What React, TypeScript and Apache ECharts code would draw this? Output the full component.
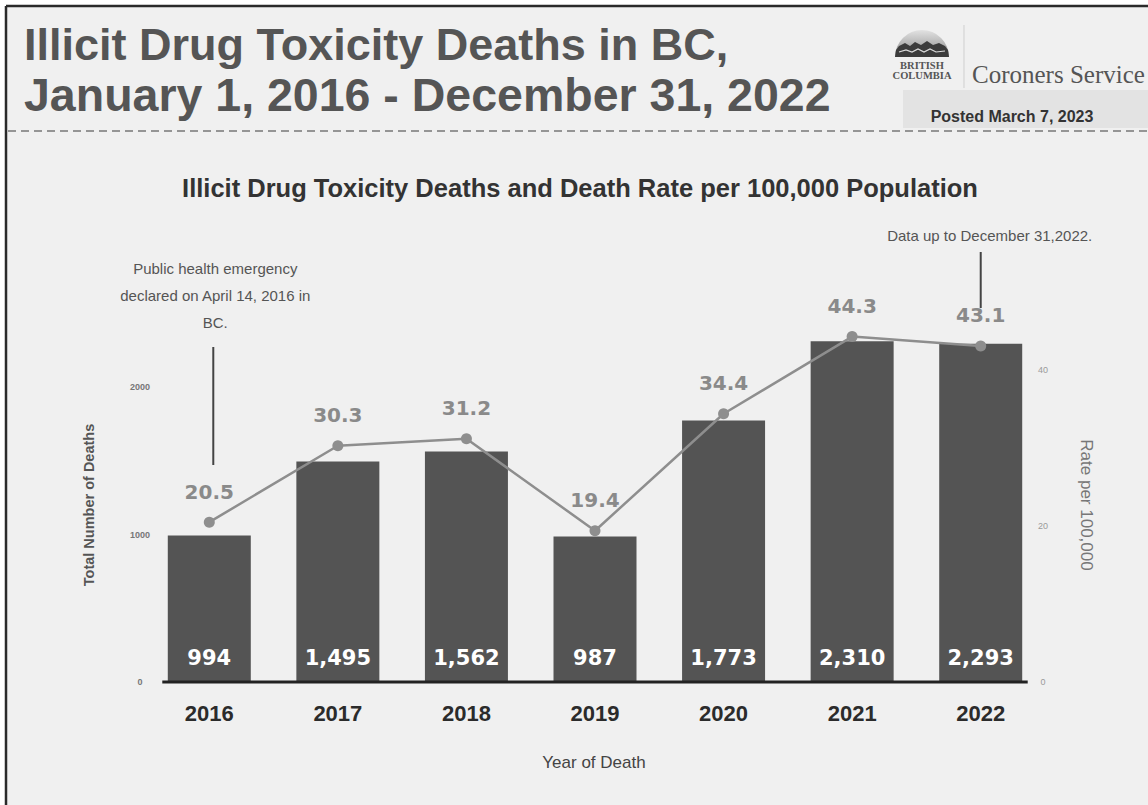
import React, { useEffect, useRef } from "react";
import * as echarts from "echarts";

const years = ["2016", "2017", "2018", "2019", "2020", "2021", "2022"];
const deaths = [994, 1495, 1562, 987, 1773, 2310, 2293];
const rates = [20.5, 30.3, 31.2, 19.4, 34.4, 44.3, 43.1];

const titleLines = ["Illicit Drug Toxicity Deaths in BC,", "January 1, 2016 - December 31, 2022"];
const chartTitle = "Illicit Drug Toxicity Deaths and Death Rate per 100,000 Population";
const noteLeft = ["Public health emergency", "declared on April 14, 2016 in", "BC."];
const noteRight = "Data up to December 31,2022.";
const postedText = "Posted March 7, 2023";

const SANS = "'Liberation Sans', Arial, sans-serif";
const WIDE = "'DejaVu Sans', sans-serif";
const SERIF = "'Liberation Serif', 'Times New Roman', serif";

export default function App() {
  const ref = useRef<HTMLDivElement>(null);
  useEffect(() => {
    document.body.style.margin = "0";
    const chart = echarts.init(ref.current!, undefined, { renderer: "svg" });
    chart.setOption({
      animation: false,
      backgroundColor: "#ffffff",
      grid: { left: 145, right: 103, top: 328, bottom: 123 },
      xAxis: {
        type: "category",
        data: years,
        axisLine: { show: false },
        axisTick: { show: false },
        axisLabel: { margin: 20, fontSize: 22, fontWeight: "bold", color: "#2b2b2b", fontFamily: SANS },
      },
      yAxis: [
        {
          type: "value",
          min: 0,
          max: 2400,
          interval: 1000,
          splitLine: { show: false },
          axisLine: { show: false },
          axisTick: { show: false },
          axisLabel: {
            showMaxLabel: false,
            margin: 5,
            align: "center",
            fontSize: 9,
            fontWeight: "bold",
            color: "#777",
            fontFamily: SANS,
            formatter: (v: number) => String(v),
          },
          name: "Total Number of Deaths",
          nameLocation: "middle",
          nameGap: 49,
          nameTextStyle: { fontSize: 14.5, fontWeight: "bold", color: "#555", fontFamily: SANS },
        },
        {
          type: "value",
          min: 0,
          max: 45.4,
          interval: 20,
          position: "right",
          splitLine: { show: false },
          axisLine: { show: false },
          axisTick: { show: false },
          axisLabel: { showMaxLabel: false, margin: -2, align: "center", fontSize: 9, color: "#9a9a9a", fontFamily: SANS },
          name: "Rate per 100,000",
          nameLocation: "middle",
          nameGap: 33,
          nameRotate: -90,
          nameTextStyle: { fontSize: 17, color: "#777", fontFamily: SANS },
        },
      ],
      series: [
        {
          type: "bar",
          data: deaths,
          barWidth: 83,
          itemStyle: { color: "#545454" },
          label: {
            show: true,
            position: "insideBottom",
            distance: 14,
            color: "#ffffff",
            fontSize: 21,
            fontWeight: "bold",
            fontFamily: WIDE,
            formatter: (p: any) => Number(p.value).toLocaleString("en-US"),
          },
        },
        {
          type: "line",
          yAxisIndex: 1,
          data: rates,
          symbol: "circle",
          symbolSize: 11,
          lineStyle: { color: "#8e8e8e", width: 2.5 },
          itemStyle: { color: "#8e8e8e" },
          label: {
            show: true,
            position: "top",
            distance: 15,
            color: "#8a8a8a",
            fontSize: 20,
            fontWeight: "bold",
            fontFamily: WIDE,
            formatter: (p: any) => Number(p.value).toFixed(1),
          },
          z: 5,
        },
      ],
    });

    const px = (c: string) => chart.convertToPixel({ xAxisIndex: 0 }, c) as number;
    const y0 = chart.convertToPixel({ yAxisIndex: 0 }, 0) as number;
    const xFirst = px(years[0]);
    const xLast = px(years[years.length - 1]);
    const half = 83 / 2 + 5.5;

    const g: any[] = [
      { type: "rect", z: -10, shape: { x: 6, y: 6, width: 1148, height: 805 }, style: { fill: "#f0f0f0" } },
      { type: "line", z: 100, shape: { x1: 6, y1: 6, x2: 1148, y2: 6 }, style: { stroke: "#2a2a2a", lineWidth: 2.5 } },
      { type: "line", z: 100, shape: { x1: 6, y1: 6, x2: 6, y2: 805 }, style: { stroke: "#2a2a2a", lineWidth: 2.5 } },
      { type: "text", z: 100, x: 24, y: 44, style: { text: titleLines[0], font: `bold 45px ${SANS}`, fill: "#555", verticalAlign: "middle" } },
      { type: "text", z: 100, x: 24, y: 95, style: { text: titleLines[1], font: `bold 46.5px ${SANS}`, fill: "#555", verticalAlign: "middle" } },
      // logo
      {
        type: "sector",
        z: 100,
        shape: { cx: 922, cy: 57, r: 27, startAngle: Math.PI, endAngle: Math.PI * 2 },
        style: { fill: new echarts.graphic.LinearGradient(0, 0, 0, 1, [{ offset: 0, color: "#e2e2e2" }, { offset: 1, color: "#8a8a8a" }]) },
      },
      {
        type: "polygon",
        z: 101,
        shape: {
          points: [[895, 57], [896, 50], [899, 46], [905, 43], [910, 46], [915, 42], [921, 45], [927, 41], [933, 45], [939, 43], [945, 46], [948, 50], [949, 57]],
        },
        style: { fill: "#3c3c3c" },
      },
      {
        type: "polyline",
        z: 102,
        shape: { points: [[899, 52], [906, 50], [912, 52], [918, 49], [924, 52], [930, 49], [936, 52], [945, 51]] },
        style: { stroke: "#dcdcdc", lineWidth: 1.2, fill: null },
      },
      { type: "text", z: 100, x: 922, y: 65, style: { text: "BRITISH", font: `bold 10.5px ${SERIF}`, fill: "#555", align: "center", verticalAlign: "middle" } },
      { type: "text", z: 100, x: 922, y: 75, style: { text: "COLUMBIA", font: `bold 10.5px ${SERIF}`, fill: "#555", align: "center", verticalAlign: "middle" } },
      { type: "line", z: 100, shape: { x1: 964, y1: 25, x2: 964, y2: 88 }, style: { stroke: "#cfcfcf", lineWidth: 1 } },
      { type: "text", z: 100, x: 972, y: 74, style: { text: "Coroners Service", font: `25px ${SERIF}`, fill: "#555", verticalAlign: "middle" } },
      { type: "rect", z: 99, shape: { x: 903, y: 90, width: 245, height: 38 }, style: { fill: "#e3e3e3" } },
      { type: "text", z: 100, x: 1012, y: 116, style: { text: postedText, font: `bold 16px ${SANS}`, fill: "#333", align: "center", verticalAlign: "middle" } },
      { type: "line", z: 100, shape: { x1: 8, y1: 131, x2: 1148, y2: 131 }, style: { stroke: "#777", lineWidth: 1.5, lineDash: [8, 5] } },
      { type: "text", z: 100, x: 580, y: 188, style: { text: chartTitle, font: `bold 25.5px ${SANS}`, fill: "#333", align: "center", verticalAlign: "middle" } },
      // annotations
      ...noteLeft.map((t, i) => ({
        type: "text",
        z: 100,
        x: xFirst + 6,
        y: 268 + i * 27,
        style: { text: t, font: `15px ${SANS}`, fill: "#555", align: "center", verticalAlign: "middle" },
      })),
      { type: "line", z: 100, shape: { x1: xFirst + 4, y1: 347, x2: xFirst + 4, y2: 465 }, style: { stroke: "#444", lineWidth: 2 } },
      { type: "text", z: 100, x: xLast + 9, y: 235, style: { text: noteRight, font: `15px ${SANS}`, fill: "#555", align: "center", verticalAlign: "middle" } },
      { type: "line", z: 100, shape: { x1: xLast, y1: 252, x2: xLast, y2: 308 }, style: { stroke: "#444", lineWidth: 2 } },
      // x axis line
      { type: "line", z: 100, shape: { x1: xFirst - half, y1: y0, x2: xLast + half, y2: y0 }, style: { stroke: "#222", lineWidth: 3 } },
      { type: "text", z: 100, x: 594, y: 762, style: { text: "Year of Death", font: `17px ${SANS}`, fill: "#444", align: "center", verticalAlign: "middle" } },
    ];
    chart.setOption({ graphic: g });
    return () => chart.dispose();
  }, []);
  return <div ref={ref} style={{ position: "fixed", left: 0, top: 0, width: 1148, height: 805 }} />;
}
